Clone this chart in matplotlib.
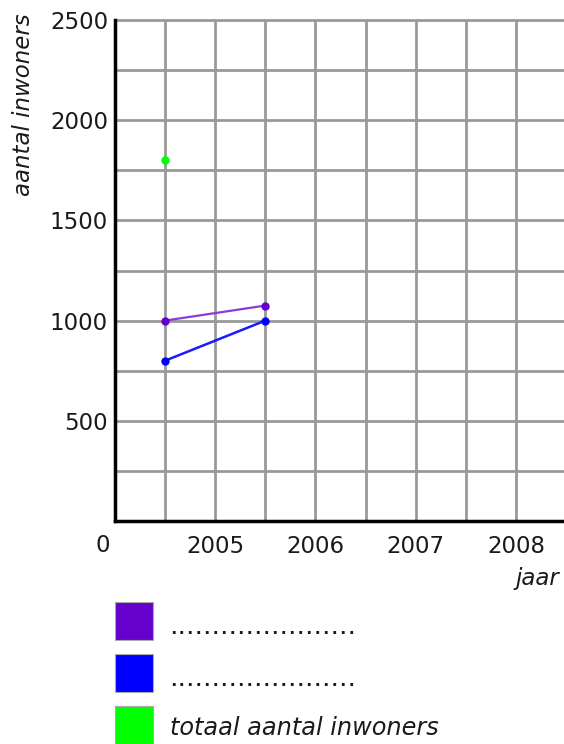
import matplotlib
matplotlib.use("Agg")
import matplotlib.pyplot as plt
from matplotlib.patches import Rectangle

# Data
years_purple = [2004.5, 2005.5]
values_purple = [1000, 1075]
years_blue = [2004.5, 2005.5]
values_blue = [800, 1000]
years_green = [2004.5]
values_green = [1800]
x_ticks = [2005, 2006, 2007, 2008]
y_ticks = [500, 1000, 1500, 2000, 2500]
legend_labels = ["......................", "......................", "totaal aantal inwoners"]
legend_colors = ["#6600cc", "#0000ff", "#00ff00"]

fig = plt.figure(figsize=(5.64, 7.44), dpi=100)
ax = fig.add_axes([115/564, 1 - 521/744, 1 - 115/564, (521 - 20)/744])

ax.set_xlim(2004, 2008.48)
ax.set_ylim(0, 2500)

grid_c = "#999999"
gx = [2004 + 0.5 * i for i in range(1, 10)]
for x in gx:
    ax.axvline(x, color=grid_c, lw=2, zorder=1)
for y in range(250, 2501, 250):
    ax.axhline(y, color=grid_c, lw=2, zorder=1, clip_on=False)

for s in ["top", "right"]:
    ax.spines[s].set_visible(False)
for s in ["left", "bottom"]:
    ax.spines[s].set_linewidth(2.5)
    ax.spines[s].set_color("black")
    ax.spines[s].set_zorder(3)

ax.plot(years_purple, values_purple, color="#8a3ad6", lw=1.6, zorder=4)
ax.plot(years_purple, values_purple, "o", color="#6600cc", ms=5, zorder=5)
ax.plot(years_blue, values_blue, color="#1a1aff", lw=1.8, zorder=4)
ax.plot(years_blue, values_blue, "o", color="#0000ff", ms=5, zorder=5)
ax.plot(years_green, values_green, "o", color="#00ff00", ms=5, zorder=5)

ax.set_xticks(x_ticks)
ax.set_xticklabels([str(t) for t in x_ticks])
ax.set_yticks(y_ticks)
ax.set_yticklabels([str(t) for t in y_ticks])
ax.tick_params(length=0, labelsize=16.5, colors="#1a1a1a")
ax.tick_params(axis="x", pad=10)
ax.tick_params(axis="y", pad=5)

ax.text(-0.027, -0.048, "0", transform=ax.transAxes, ha="center", va="center",
        fontsize=16.5, color="#1a1a1a")

fig.text(24/564, 1 - 105/744, "aantal inwoners", rotation=90, ha="center", va="center",
         fontsize=16.5, style="italic", color="#1a1a1a")
fig.text(559/564, 1 - 579/744, "jaar", ha="right", va="center",
         fontsize=16.5, style="italic", color="#1a1a1a")

sq_y = [621, 673, 725]
for lab, col, yc in zip(legend_labels, legend_colors, sq_y):
    fig.patches.append(Rectangle((115/564, 1 - (yc + 19)/744), 38/564, 38/744,
                                 transform=fig.transFigure, facecolor=col,
                                 edgecolor="#aaaaaa", lw=0.8))
    if lab.startswith("."):
        fig.text(169/564, 1 - (yc + 6)/744, lab, ha="left", va="center",
                 fontsize=19.5, color="#1a1a1a")
    else:
        fig.text(170/564, 1 - (yc + 3)/744, lab, ha="left", va="center",
                 fontsize=17.3, style="italic", color="#1a1a1a")

fig.savefig("out.png", dpi=100)
